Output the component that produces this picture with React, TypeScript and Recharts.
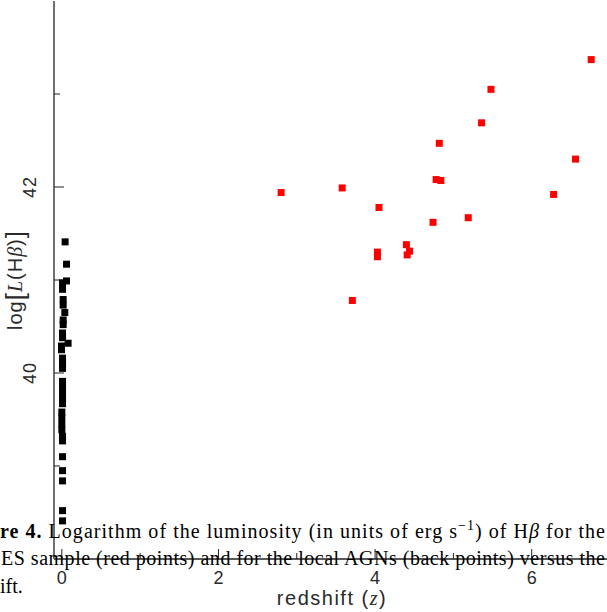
import React from 'react';
import { ScatterChart, Scatter, XAxis, YAxis } from 'recharts';

// high-redshift sample (red points)
const redZ = [6.76, 5.48, 5.36, 4.82, 6.56, 4.78, 4.84, 2.8, 3.58, 6.28, 4.05, 5.19, 4.74, 4.4, 4.44, 4.03, 4.03, 4.41, 3.71];
const redLogL = [43.37, 43.05, 42.69, 42.47, 42.3, 42.08, 42.07, 41.94, 41.99, 41.92, 41.78, 41.67, 41.62, 41.38, 41.31, 41.3, 41.25, 41.27, 40.78];

// local AGNs (black points)
const localZ = [
  0.042, 0.06, 0.06, 0.009, 0.009, 0.017, 0.017, 0.038, 0.017, 0.017, 0.009, 0.009, 0.08, -0.004, -0.004,
  0.009, 0.009, 0.009, 0.009, 0.009, 0.009, 0.009, 0.009, 0.0, 0.0, 0.0, 0.0, 0.009, 0.009, 0.009, 0.009,
  0.009, 0.009, 0.009,
];
const localLogL = [
  41.41, 41.17, 40.99, 40.97, 40.9, 40.79, 40.73, 40.65, 40.57, 40.52, 40.43, 40.38, 40.32, 40.29, 40.25,
  40.16, 40.11, 40.05, 39.91, 39.85, 39.79, 39.73, 39.67, 39.58, 39.52, 39.45, 39.39, 39.32, 39.27, 39.1,
  38.95, 38.84, 38.52, 38.41,
];

const xTicks = [0, 1, 2, 3, 4, 5, 6, 7];
const xLabels = [0, 2, 4, 6];
const yTicks = [39, 40, 41, 42, 43];
const yLabels = [40, 42];

const redData = redZ.map((z, i) => ({ z, logL: redLogL[i] }));
const localData = localZ.map((z, i) => ({ z, logL: localLogL[i] }));

const SANS = '"Liberation Sans", Arial, sans-serif';
const SERIF = '"Liberation Serif", "Times New Roman", serif';
const AXIS = '#6f6f6f';
const INK = '#2a2a2a';

const square = (color: string) => (p: any) => (
  <rect x={p.cx - 3.5} y={p.cy - 3.5} width={7} height={7} fill={color} />
);

const BottomTick = (p: any) => {
  const v = p.payload.value;
  const major = xLabels.includes(v);
  return (
    <g>
      <line x1={p.x} x2={p.x} y1={p.y} y2={p.y - (major ? 10 : 6)} stroke="#222" />
      {major && (
        <text x={p.x} y={p.y + 25} textAnchor="middle" fontSize={18} fontFamily={SANS} fill={INK}>
          {v}
        </text>
      )}
    </g>
  );
};

const TopTick = (p: any) => {
  const major = xLabels.includes(p.payload.value);
  return <line x1={p.x} x2={p.x} y1={p.y} y2={p.y + (major ? 10 : 6)} stroke="#222" />;
};

const LeftTick = (p: any) => {
  const v = p.payload.value;
  const major = yLabels.includes(v);
  return (
    <g>
      <line x1={p.x} x2={p.x + (major ? 10 : 6)} y1={p.y} y2={p.y} stroke="#222" />
      {major && (
        <text
          transform={`translate(${p.x - 18},${p.y}) rotate(-90)`}
          textAnchor="middle"
          fontSize={18}
          letterSpacing={1}
          fontFamily={SANS}
          fill={INK}
        >
          {v}
        </text>
      )}
    </g>
  );
};

const RightTick = (p: any) => {
  const major = yLabels.includes(p.payload.value);
  return <line x1={p.x} x2={p.x - (major ? 10 : 6)} y1={p.y} y2={p.y} stroke="#222" />;
};

const XLabel = (p: any) => {
  const vb = p.viewBox;
  return (
    <text
      x={vb.x + vb.width / 2}
      y={vb.y + 46}
      textAnchor="middle"
      fontSize={20}
      letterSpacing={1.5}
      fontFamily={SANS}
      fill={INK}
    >
      redshift (<tspan fontFamily={SERIF} fontStyle="italic">z</tspan>)
    </text>
  );
};

const YLabel = (p: any) => {
  const vb = p.viewBox;
  const cx = vb.x + 15;
  const cy = vb.y + vb.height / 2;
  return (
    <text
      transform={`translate(${cx},${cy}) rotate(-90)`}
      textAnchor="middle"
      dominantBaseline="central"
      fontSize={20}
      letterSpacing={1}
      fontFamily={SANS}
      fill={INK}
    >
      log<tspan fontSize={26}>[</tspan>
      <tspan fontFamily={SERIF} fontStyle="italic">L</tspan>(H
      <tspan fontFamily={SERIF} fontStyle="italic">β</tspan>)<tspan fontSize={26}>]</tspan>
    </text>
  );
};

export default function App() {
  return (
    <div style={{ position: 'absolute', left: 0, top: 0, width: 607, height: 612, overflow: 'hidden', background: '#fff' }}>
      <ScatterChart width={620} height={612} margin={{ top: 1, right: 10, bottom: 0, left: 0 }}>
        <XAxis
          xAxisId="bottom"
          type="number"
          dataKey="z"
          domain={[-0.1, 7]}
          ticks={xTicks}
          interval={0}
          height={53}
          tickSize={0}
          tickMargin={0}
          tickLine={false}
          axisLine={{ stroke: '#222', strokeWidth: 1.3 }}
          tick={BottomTick}
          label={<XLabel />}
        />
        <XAxis
          xAxisId="top"
          orientation="top"
          type="number"
          dataKey="z"
          domain={[-0.1, 7]}
          ticks={xTicks}
          interval={0}
          height={0}
          tickSize={0}
          tickMargin={0}
          tickLine={false}
          axisLine={{ stroke: AXIS, strokeWidth: 2 }}
          tick={TopTick}
        />
        <YAxis
          yAxisId="left"
          type="number"
          dataKey="logL"
          domain={[38, 44]}
          ticks={yTicks}
          interval={0}
          width={54}
          tickSize={0}
          tickMargin={0}
          tickLine={false}
          axisLine={{ stroke: AXIS, strokeWidth: 2 }}
          tick={LeftTick}
          label={<YLabel />}
        />
        <YAxis
          yAxisId="right"
          orientation="right"
          type="number"
          dataKey="logL"
          domain={[38, 44]}
          ticks={yTicks}
          interval={0}
          width={0}
          tickSize={0}
          tickMargin={0}
          tickLine={false}
          axisLine={{ stroke: AXIS, strokeWidth: 2 }}
          tick={RightTick}
        />
        <Scatter
          xAxisId="bottom"
          yAxisId="left"
          data={localData}
          fill="#000"
          shape={square('#000')}
          isAnimationActive={false}
        />
        <Scatter
          xAxisId="bottom"
          yAxisId="left"
          data={redData}
          fill="#ff0000"
          shape={square('#ff0000')}
          isAnimationActive={false}
        />
      </ScatterChart>
      <svg
        width={607}
        height={612}
        style={{ position: 'absolute', left: 0, top: 0, pointerEvents: 'none' }}
        fontFamily={SERIF}
        fontSize={20}
        fill="#000"
      >
        <text x={0} y={538} textLength={605} lengthAdjust="spacing">
          <tspan fontWeight="bold">re 4.</tspan> Logarithm of the luminosity (in units of erg s
          <tspan dy={-8} fontSize={14}>−1</tspan>
          <tspan dy={8}>) of H</tspan>
          <tspan fontStyle="italic">β</tspan> for the
        </text>
        <text x={1} y={565} textLength={604} lengthAdjust="spacing">
          ES sample (red points) and for the local AGNs (back points) versus the
        </text>
        <text x={0} y={593}>
          ift.
        </text>
      </svg>
    </div>
  );
}
